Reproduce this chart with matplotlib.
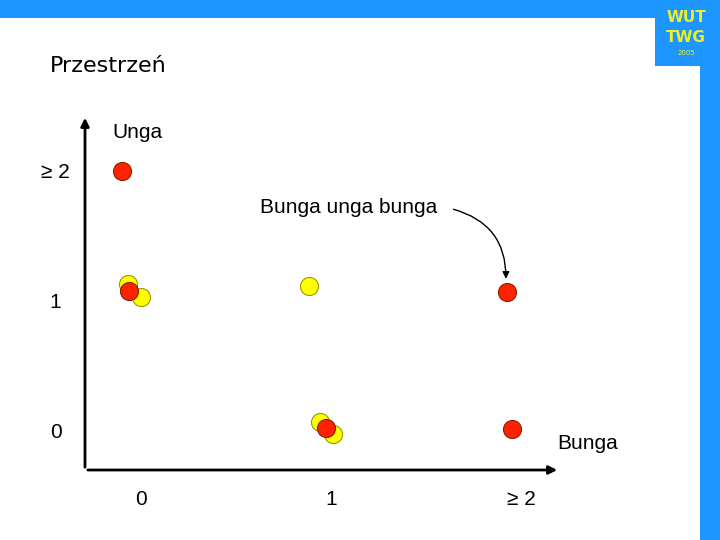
import matplotlib.pyplot as plt
from matplotlib.patches import Rectangle, FancyArrowPatch

W, H = 720, 540
blue = '#1E96FF'

yellow_x = [-0.07, 0.0, 0.884, 0.94, 1.01]
yellow_y = [1.14, 1.04, 1.13, 0.084, -0.008]
red_x = [-0.1, -0.063, 1.926, 0.974, 1.95]
red_y = [2.01, 1.09, 1.08, 0.038, 0.03]

xticks = [0, 1, 2]
xtick_labels = ['0', '1', '\u2265 2']
yticks = [0, 1, 2]
ytick_labels = ['0', '1', '\u2265 2']

fig = plt.figure(figsize=(W / 100, H / 100), dpi=100)

# slide decoration in pixel coordinates
bg = fig.add_axes([0, 0, 1, 1])
bg.set_xlim(0, W)
bg.set_ylim(H, 0)
bg.axis('off')
bg.add_patch(Rectangle((0, 0), W, 18, color=blue, lw=0))
bg.add_patch(Rectangle((655, 0), 50, 66, color=blue, lw=0))
bg.add_patch(Rectangle((700, 0), 20, H, color=blue, lw=0))
bg.text(686, 18, 'WUT', color='#F0F020', fontsize=11, fontweight='bold', ha='center', va='center')
bg.text(686, 37, 'TWG', color='#F0F020', fontsize=11, fontweight='bold', ha='center', va='center')
bg.text(686, 53, '2005', color='#F0F020', fontsize=5, ha='center', va='center')
bg.text(50, 66, 'Przestrzeń', fontsize=16, ha='left', va='center', family='DejaVu Sans')

# data axes: px 85..560, py 115..470
ax = fig.add_axes([85 / W, 1 - 470 / H, 475 / W, 355 / H])
ax.set_xlim(-0.295, 2.205)
ax.set_ylim(-0.284, 2.437)
ax.patch.set_alpha(0)
for s in ax.spines.values():
    s.set_visible(False)
ax.annotate('', xy=(2.205, -0.284), xytext=(-0.295, -0.284),
            arrowprops=dict(arrowstyle='-|>', color='black', lw=2, mutation_scale=12))
ax.annotate('', xy=(-0.295, 2.437), xytext=(-0.295, -0.284),
            arrowprops=dict(arrowstyle='-|>', color='black', lw=2, mutation_scale=12))
ax.set_xticks([])
ax.set_yticks([])
for x, lab in zip(xticks, xtick_labels):
    ax.text(x, -0.51, lab, fontsize=15, ha='center', va='center', family='Liberation Sans')
for y, lab in zip(yticks, ytick_labels):
    ax.text(-0.45, y, lab, fontsize=15, ha='center', va='center', family='Liberation Sans')

ax.plot(yellow_x, yellow_y, 'o', ms=13, mfc='#FFFF00', mec='#999900', mew=0.8, ls='none')
ax.plot(red_x, red_y, 'o', ms=13, mfc='#FF2200', mec='#882200', mew=0.8, ls='none')

ax.text(-0.02, 2.3, 'Unga', fontsize=15, ha='center', va='center', family='Liberation Sans')
ax.text(2.35, -0.08, 'Bunga', fontsize=15, ha='center', va='center', family='Liberation Sans', clip_on=False)
ax.text(1.09, 1.73, 'Bunga unga bunga', fontsize=15, ha='center', va='center', family='Liberation Sans')
ax.add_patch(FancyArrowPatch((1.63, 1.72), (1.92, 1.16), connectionstyle='arc3,rad=-0.4',
                             arrowstyle='-|>', mutation_scale=10, color='black', lw=1))

fig.savefig('out.png', dpi=100)
